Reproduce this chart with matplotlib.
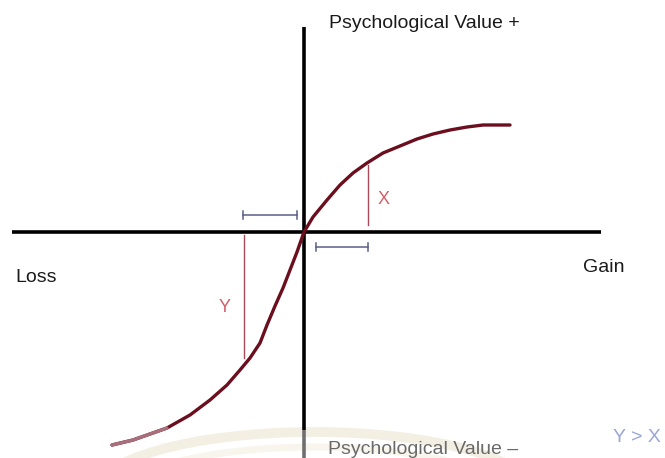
import matplotlib.pyplot as plt
from matplotlib.patches import Arc

# value curve (origin = where the axes cross)
gain = [-192, -171, -137, -114, -94, -77, -64, -54, -44, -37, -29, -21,
        -14, -7, 0, 9, 23, 36, 49, 63, 79, 96, 113, 129, 146, 163, 179, 206]
value = [-213, -208, -196, -183, -168, -153, -138, -126, -111, -93, -74, -56,
         -38, -20, 0, 15, 32, 47, 59, 69, 79, 86, 93, 98, 102, 105, 107, 107]

# the two marked distances
y_gap = [-60, -3, -126]   # x, top, bottom of the red Y line
x_gap = [64, 67, 7]       # x, top, bottom of the red X line
left_span = [-61, -7, 17]    # from, to, height
right_span = [12, 64, -15]

plt.rcParams['font.family'] = ['Liberation Sans', 'DejaVu Sans']

fig = plt.figure(figsize=(6.65, 4.58), dpi=100)
ax = fig.add_axes([0, 0, 1, 1])
ax.set_xlim(-304, 361)
ax.set_ylim(-226, 232)
ax.axis("off")

# faint watermark at the bottom
ax.add_patch(Arc((10, -262), 440, 124, theta1=0, theta2=180,
                 color="#f2ebdd", lw=7, alpha=0.8))
ax.add_patch(Arc((10, -270), 400, 110, theta1=0, theta2=180,
                 color="#f6f1e6", lw=5, alpha=0.7))

# axes
ax.plot([-292, 297], [0, 0], color="black", lw=2.6, solid_capstyle="butt")
ax.plot([0, 0], [205, -198], color="black", lw=2.6, solid_capstyle="butt")
ax.plot([0, 0], [-198, -226], color="#6f6f6f", lw=2.6, solid_capstyle="butt")

# curve (faded at the lower end)
ax.plot(gain, value, color="#6b0f1f", lw=2.4, solid_capstyle="round",
        solid_joinstyle="round")
ax.plot(gain[:3], value[:3], color="#a8707c", lw=2.4, solid_capstyle="round")

# red distance lines
ax.plot([y_gap[0], y_gap[0]], [y_gap[1], y_gap[2]], color="#a84a58", lw=1.0)
ax.plot([x_gap[0], x_gap[0]], [x_gap[1], x_gap[2]], color="#a84a58", lw=1.0)
ax.text(-79, -76, "Y", color="#d0606a", fontsize=13, ha="center", va="center")
ax.text(80, 32, "X", color="#d0606a", fontsize=13, ha="center", va="center")

# blue brackets
for span in [left_span, right_span]:
    a, b, h = span
    ax.plot([a, b], [h, h], color="#5a5f85", lw=1.1)
    ax.plot([a, a], [h - 4, h + 4], color="#5a5f85", lw=1.1)
    ax.plot([b, b], [h - 4, h + 4], color="#5a5f85", lw=1.1)

# labels
ax.text(25, 209, "Psychological Value +", fontsize=14, color="#1a1a1a",
        ha="left", va="center")
ax.text(-289, -46, "Loss", fontsize=14, color="#1a1a1a", ha="left", va="center")
ax.text(279, -36, "Gain", fontsize=14, color="#1a1a1a", ha="left", va="center")
ax.text(24, -217, "Psychological Value \u2013", fontsize=14, color="#6a6a6a",
        ha="left", va="center")
ax.text(309, -206, "Y > X", fontsize=14, color="#9aa6d6", ha="left", va="center")

plt.savefig("out.png", dpi=100)
